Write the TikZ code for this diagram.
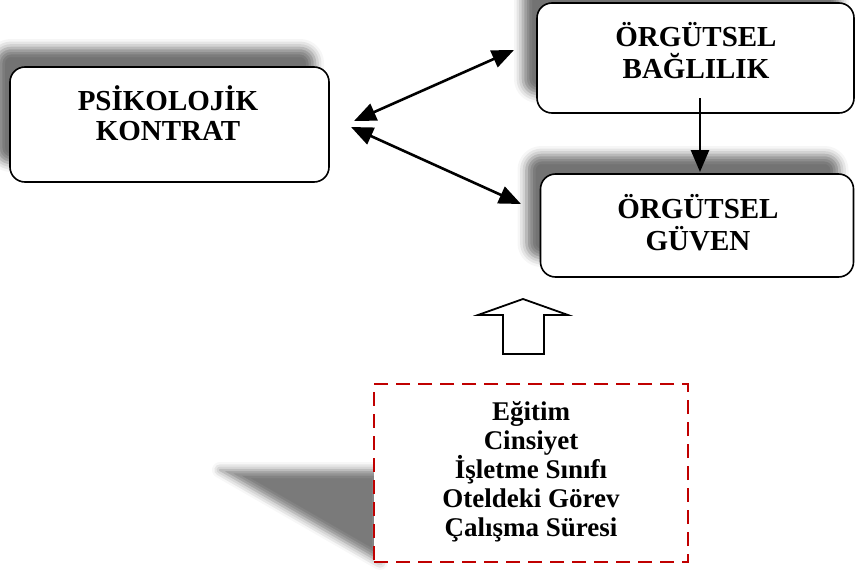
\documentclass[tikz,border=0pt]{standalone}
\usepackage{fontspec}
\setmainfont{Liberation Serif}
\usetikzlibrary{shadows.blur,arrows.meta}
\definecolor{dred}{HTML}{C00000}
\tikzset{
  mainbox/.style={draw=black, line width=1.6pt, rounded corners=15pt, fill=white, inner sep=0pt,
    blur shadow={shadow xshift=-14pt, shadow yshift=19pt, shadow blur radius=9pt, shadow opacity=55}},
  factorbox/.style={draw=dred, line width=2.6pt, dash pattern=on 14pt off 8pt, fill=white, inner sep=0pt},
  bigtxt/.style={anchor=base, inner sep=0pt, font=\fontsize{29}{31}\selectfont\bfseries},
  smalltxt/.style={anchor=base, inner sep=0pt, font=\fontsize{27}{29}\selectfont\bfseries},
  conn/.style={draw=black, line width=2.6pt, -{Triangle[length=22pt,width=18pt,fill=black]}},
  dconn/.style={draw=black, line width=2.6pt, {Triangle[length=22pt,width=18pt,fill=black]}-{Triangle[length=22pt,width=18pt,fill=black]}},
}
\begin{document}
\begin{tikzpicture}[x=1pt,y=-1pt]
\useasboundingbox (0,0) rectangle (855,570);
% perspective shadow of the factor box
\path[blur shadow={shadow xshift=0pt, shadow yshift=0pt, shadow blur radius=8pt, shadow opacity=52}]
  (220,470) -- (380,470) -- (380,562) -- cycle;
\node[mainbox, minimum width=319pt, minimum height=115pt] (psk) at (169.5,124.5) {};
\node[mainbox, minimum width=317pt, minimum height=110pt] (bag) at (695.5,58) {};
\node[mainbox, minimum width=313pt, minimum height=103pt] (guv) at (697,225.5) {};
\node[factorbox, minimum width=314pt, minimum height=178pt] (fac) at (531,473) {};
% texts
\node[bigtxt] (psk1) at (168,110) {PSİKOLOJİK};
\node[bigtxt] (psk2) at (168,140) {KONTRAT};
\node[bigtxt] (bag1) at (696,46.7) {ÖRGÜTSEL};
\node[bigtxt] (bag2) at (696,78.3) {BAĞLILIK};
\node[bigtxt] (guv1) at (698,218.3) {ÖRGÜTSEL};
\node[bigtxt] (guv2) at (698,250) {GÜVEN};
\node[smalltxt] (fac1) at (531,420) {Eğitim};
\node[smalltxt] (fac2) at (531,449.3) {Cinsiyet};
\node[smalltxt] (fac3) at (531,478.3) {İşletme Sınıfı};
\node[smalltxt] (fac4) at (531,507.3) {Oteldeki Görev};
\node[smalltxt] (fac5) at (531,536.7) {Çalışma Süresi};
% block arrow
\draw[line width=1.8pt, fill=white] (523,299) -- (568,315) -- (544,315) -- (544,354) -- (503,354) -- (503,315) -- (478,315) -- cycle;
% connectors
\coordinate (p1) at (354,121);
\coordinate (p2) at (351,127);
\coordinate (b1) at (514,50);
\coordinate (g1) at (521,204);
\coordinate (bs) at (700,98);
\coordinate (gt) at (700,172);
\draw[dconn] (p1) -- (b1);
\draw[dconn] (p2) -- (g1);
\draw[conn] (bs) -- (gt);
\end{tikzpicture}
\end{document}
